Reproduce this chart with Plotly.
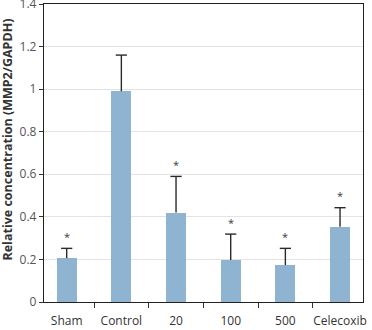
import plotly.graph_objects as go

categories = ["Sham", "Control", "20", "100", "500", "Celecoxib"]
values = [0.206, 0.99, 0.42, 0.197, 0.173, 0.354]
errors_up = [0.046, 0.17, 0.17, 0.122, 0.079, 0.089]
significant = [True, False, True, True, True, True]
y_ticks = [0, 0.2, 0.4, 0.6, 0.8, 1.0, 1.2, 1.4]
y_tick_labels = ["0", "0.2", "0.4", "0.6", "0.8", "1", "1.2", "1.4"]
y_title = "Relative concentration (MMP2/GAPDH)"

bar_color = "#8fb4d1"
err_color = "#2a2a2a"
font_family = "Open Sans, Noto Sans, sans-serif"

idx = list(range(len(categories)))
tops = [v + e for v, e in zip(values, errors_up)]

fig = go.Figure()
fig.add_trace(go.Bar(
    x=idx,
    y=values,
    width=0.37,
    marker=dict(color=bar_color, line=dict(width=0)),
    hoverinfo="skip",
))
# vertical error stems (no caps)
fig.add_trace(go.Scatter(
    x=idx, y=values, mode="markers",
    marker=dict(size=1, opacity=0),
    error_y=dict(type="data", symmetric=False, array=errors_up,
                 arrayminus=[0] * len(values),
                 color=err_color, thickness=1.4, width=0),
    hoverinfo="skip",
))
# top caps
fig.add_trace(go.Scatter(
    x=idx, y=tops, mode="markers",
    marker=dict(symbol="line-ew", size=8, line=dict(color=err_color, width=1.4)),
    hoverinfo="skip",
))

for i, t, s in zip(idx, tops, significant):
    if s:
        fig.add_annotation(
            x=i, y=t, text="*", showarrow=False,
            yanchor="middle", yshift=12,
            font=dict(family=font_family, size=11, color="#3a3a3a"),
        )

# y-axis title
fig.add_annotation(
    xref="paper", yref="paper", x=-0.113, y=0.545,
    text="<b>" + y_title + "</b>", textangle=-90, showarrow=False,
    xanchor="center", yanchor="middle",
    font=dict(family=font_family, size=12.5, color="#333333"),
)

fig.update_layout(
    width=372, height=330,
    margin=dict(l=44, r=9, t=4, b=28),
    paper_bgcolor="white", plot_bgcolor="white",
    showlegend=False,
    bargap=0,
    font=dict(family=font_family, size=11, color="#444444"),
)
fig.update_xaxes(
    range=[-0.415, 5.42],
    tickvals=idx, ticktext=categories,
    showline=True, linecolor="#222222", linewidth=1.3,
    mirror=True, automargin=False,
    ticks="", showgrid=False, zeroline=False,
    ticklabelstandoff=7,
    ticklabeloverflow="allow",
    tickfont=dict(family=font_family, size=12, color="#333333"),
    minor=dict(tickvals=[i + 0.5 for i in idx], ticks="outside", ticklen=5,
               tickcolor="#333333", tickwidth=1, showgrid=False),
)
fig.update_yaxes(
    range=[0, 1.4],
    tickvals=y_ticks, ticktext=y_tick_labels,
    showline=True, linecolor="#222222", linewidth=1.3,
    mirror=True, automargin=False,
    ticks="outside", ticklen=4, tickcolor="#333333", tickwidth=1,
    showgrid=True, gridcolor="#e3e3e3", gridwidth=1,
    zeroline=False,
    ticklabeloverflow="allow",
    tickfont=dict(family=font_family, size=12, color="#555555"),
)

fig.write_html("out.html")
